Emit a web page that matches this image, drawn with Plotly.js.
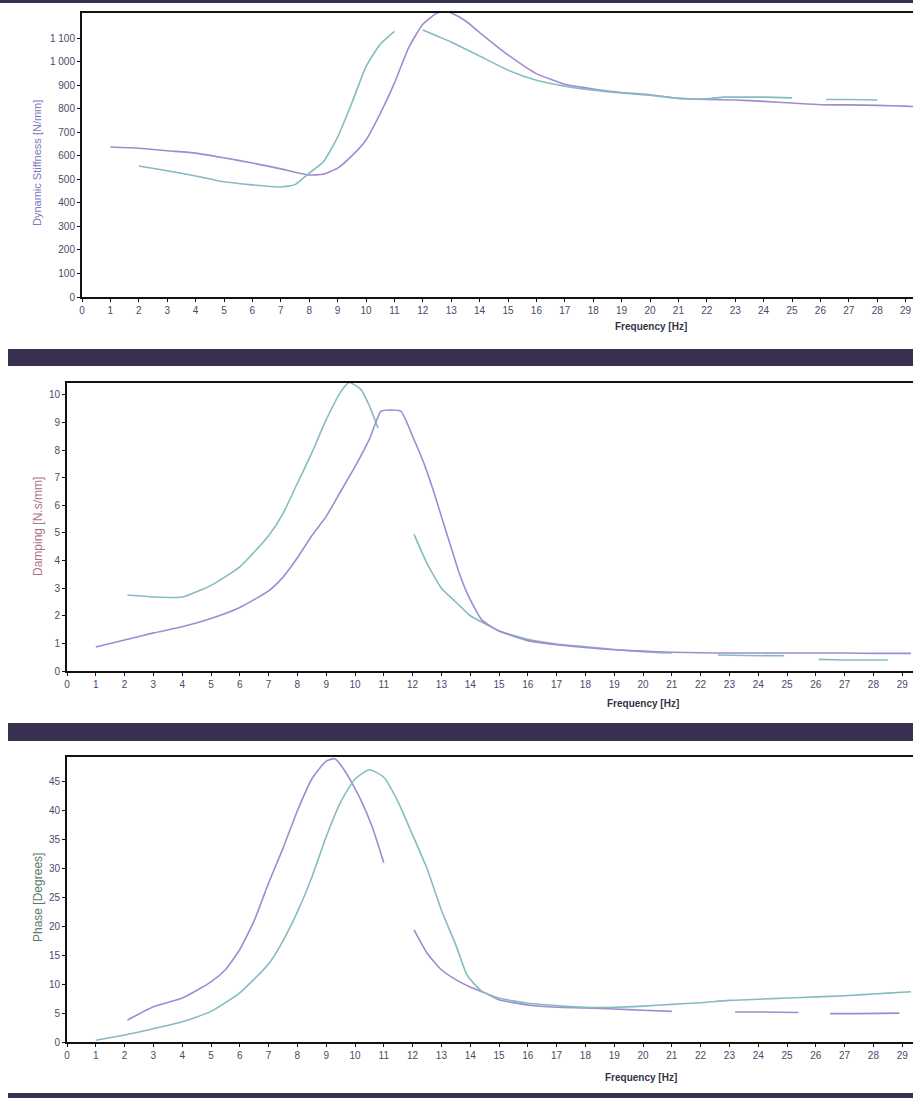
<!DOCTYPE html>
<html>
<head>
<meta charset="utf-8">
<script src="https://cdn.plot.ly/plotly-3.0.1.min.js"></script>
<style>
html,body{margin:0;padding:0;background:#fff;overflow:hidden;}
#chart{width:913px;height:1098px;}
</style>
</head>
<body>
<div id="chart"></div>
<script>
// ---- Chart 1: Dynamic Stiffness ----
var stiffFreqA = [1,2,3,4,5,6,7,8,8.5,9,9.5,10,10.5,11,11.5,12,12.5,12.8,13,13.5,14,15,16,17,18,19,20,21,22,23,24,25,26,27,28,29,29.3];
var stiffA     = [638,633,622,612,592,570,545,519,522,548,600,668,780,910,1060,1160,1208,1215,1208,1175,1125,1030,950,905,885,870,860,845,840,838,832,825,818,817,815,812,810];
var stiffFreqB = [2,3,4,5,6,7,7.5,8,8.5,9,9.5,10,10.5,11,11.5,12,12.5,13,14,15,16,17,18,19,20,21,22,22.6,23,24,25,25.6,26.2,27,28];
var stiffB     = [557,537,515,490,477,468,478,527,575,680,825,980,1075,1130,null,1136,1110,1085,1025,965,922,897,880,868,858,845,843,850,850,850,847,null,840,840,838];

// ---- Chart 2: Damping ----
var dampFreqP = [2.1,3,4,5,6,7,7.5,8,8.5,9,9.5,9.8,10.2,10.5,10.8,11.4,12.05,12.5,13,13.5,14,14.5,15,16,17,18,19,20,21,21.8,22.6,23.5,24.9,25.5,26.1,27,28.5];
var dampP     = [2.75,2.68,2.68,3.1,3.77,4.9,5.7,6.8,7.9,9.1,10.1,10.45,10.2,9.6,8.8,null,4.95,3.9,3.0,2.5,2.0,1.72,1.45,1.15,0.98,0.88,0.78,0.7,0.65,null,0.58,0.56,0.55,null,0.42,0.40,0.40];
var dampFreqQ = [1,2,3,4,5,6,7,7.5,8,8.5,9,9.5,10,10.5,10.9,11.2,11.6,12,12.4,12.7,13,13.3,13.6,13.9,14.4,15,15.6,16,17,18,19,20,21,22,23,24,25,26,27,28,29,29.3];
var dampQ     = [0.87,1.12,1.38,1.6,1.9,2.3,2.9,3.4,4.1,4.9,5.6,6.5,7.4,8.4,9.4,9.45,9.4,8.5,7.5,6.6,5.6,4.6,3.6,2.8,1.85,1.45,1.23,1.1,0.95,0.85,0.77,0.72,0.68,0.66,0.65,0.65,0.65,0.65,0.65,0.64,0.64,0.64];

// ---- Chart 3: Phase ----
var phaseFreqR = [2.1,3,4,5,5.5,6,6.5,7,7.5,8,8.5,9,9.3,9.7,10.2,10.6,11,11.5,12.05,12.5,13,13.5,14,14.5,15,16,17,18,19,20,21,22,23.2,24,25.4,26,26.5,27.5,28.9];
var phaseR     = [3.8,6.1,7.6,10.4,12.5,16,21,27.5,33.5,40,45.5,48.6,49,46.5,41.9,37.2,31,null,19.4,15.4,12.5,10.8,9.5,8.5,7.3,6.4,6.0,5.9,5.7,5.5,5.3,null,5.2,5.2,5.1,null,4.9,4.9,5.0];
var phaseFreqS = [1,2,3,4,5,6,7,7.5,8,8.5,9,9.5,10,10.5,11,11.5,12,12.5,13,13.5,13.9,14.4,15,16,17,18,19,20,21,22,23,24,25,26,27,28,29,29.3];
var phaseS     = [0.3,1.2,2.3,3.5,5.3,8.5,13.5,17.5,22.5,28.5,35.5,41.5,45.5,47.1,45.8,41.5,35.8,30,22.8,16.8,11.5,8.8,7.6,6.7,6.3,6.0,6.0,6.2,6.5,6.8,7.2,7.4,7.6,7.8,8.0,8.3,8.6,8.7];

// ---- Tick labels ----
var freqTicks = [0,1,2,3,4,5,6,7,8,9,10,11,12,13,14,15,16,17,18,19,20,21,22,23,24,25,26,27,28,29];
var stiffTicks = [0,100,200,300,400,500,600,700,800,900,1000,1100];
var stiffTickText = ["0","100","200","300","400","500","600","700","800","900","1 000","1 100"];
var dampTicks = [0,1,2,3,4,5,6,7,8,9,10];
var phaseTicks = [0,5,10,15,20,25,30,35,40,45];

var W = 913, H = 1098;
function px(x){ return x / W; }
function py(y){ return 1 - y / H; }

var colA = '#a08bd2', colB = '#84bcc0';
function tr(x, y, col, xa, ya){
  return {x:x, y:y, type:'scatter', mode:'lines', xaxis:xa, yaxis:ya,
          line:{color:col, width:1.6, shape:'spline', smoothing:0.5},
          connectgaps:false, hoverinfo:'skip', showlegend:false};
}
var data = [
  tr(stiffFreqA, stiffA, colA, 'x', 'y'),
  tr(stiffFreqB, stiffB, colB, 'x', 'y'),
  tr(dampFreqP, dampP, colB, 'x2', 'y2'),
  tr(dampFreqQ, dampQ, colA, 'x2', 'y2'),
  tr(phaseFreqR, phaseR, colA, 'x3', 'y3'),
  tr(phaseFreqS, phaseS, colB, 'x3', 'y3')
];

var tickFont = {family:'Liberation Sans, Arial, sans-serif', size:10, color:'#4a4a6a'};
function xax(dom, rng, anchor){
  return {domain:dom, range:rng, anchor:anchor, tickvals:freqTicks, ticks:'outside', ticklen:3,
          tickcolor:'#111', showline:true, linecolor:'#111', linewidth:2, mirror:true,
          showgrid:false, zeroline:false, tickfont:tickFont, fixedrange:true};
}
function yax(dom, rng, anchor, tv, tt){
  var a = {domain:dom, range:rng, anchor:anchor, tickvals:tv, ticks:'outside', ticklen:3,
          tickcolor:'#111', showline:true, linecolor:'#111', linewidth:2, mirror:false,
          showgrid:false, zeroline:false, tickfont:tickFont, fixedrange:true};
  if (tt) a.ticktext = tt;
  return a;
}

function band(y0, y1, x0){
  return {type:'rect', xref:'paper', yref:'paper', x0:px(x0), x1:1, y0:py(y1), y1:py(y0),
          fillcolor:'#3a3152', line:{width:0}, layer:'above'};
}

var fam = 'Liberation Sans, Arial, sans-serif';
function xTitle(x, y){
  return {text:'<b>Frequency [Hz]</b>', xref:'paper', yref:'paper', x:px(x), y:py(y),
          xanchor:'center', yanchor:'middle',
          showarrow:false, font:{family:fam, size:10, color:'#333344'}};
}
function yTitle(text, x, y, col, size){
  return {text:text, xref:'paper', yref:'paper', x:px(x), y:py(y), textangle:-90,
          xanchor:'center', yanchor:'middle',
          showarrow:false, font:{family:fam, size:size, color:col}};
}

var layout = {
  width:W, height:H, margin:{l:0, r:0, t:0, b:0},
  paper_bgcolor:'#ffffff', plot_bgcolor:'#ffffff', showlegend:false,
  xaxis:  xax([px(82), 1], [0, 29.26], 'y'),
  yaxis:  yax([py(297), py(13)], [0, 1208], 'x', stiffTicks, stiffTickText),
  xaxis2: xax([px(67), 1], [0, 29.375], 'y2'),
  yaxis2: yax([py(671), py(383)], [0, 10.43], 'x2', dampTicks),
  xaxis3: xax([px(67), 1], [0, 29.375], 'y3'),
  yaxis3: yax([py(1042), py(757)], [0, 49.3], 'x3', phaseTicks),
  shapes: [
    band(0, 3, 0),
    band(349, 366, 8),
    band(723, 741, 8),
    band(1093, 1098, 8)
  ],
  annotations: [
    xTitle(651, 326),
    xTitle(643, 703),
    xTitle(641, 1077),
    yTitle('Dynamic Stiffness [N/mm]', 37, 163, '#7a78c0', 11),
    yTitle('Damping [N.s/mm]', 38, 527, '#b0708a', 12),
    yTitle('Phase [Degrees]', 38, 898, '#5a7a6a', 12)
  ]
};

Plotly.newPlot('chart', data, layout, {staticPlot:true, displayModeBar:false});
</script>
</body>
</html>
